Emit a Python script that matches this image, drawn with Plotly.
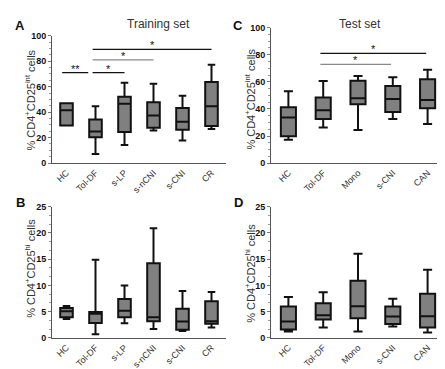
import plotly.graph_objects as go

# ---------------- data ----------------
train_cats = ["HC", "Tol-DF", "s-LP", "s-nCNI", "s-CNI", "CR"]
test_cats = ["HC", "Tol-DF", "Mono", "s-CNI", "CAN"]

# Panel A: % CD4+CD25int, training set
a_min = [29.5, 7.1, 14.2, 25.6, 17.8, 26.7]
a_q1 = [29.5, 20.3, 24.4, 27.7, 26.2, 29.2]
a_med = [41.4, 24.9, 46.5, 37.4, 32.5, 44.7]
a_q3 = [47.0, 34.3, 52.0, 47.8, 43.2, 63.6]
a_max = [47.0, 44.7, 63.0, 62.3, 52.9, 77.1]

# Panel C: % CD4+CD25int, test set
c_min = [17.2, 26.3, 24.4, 32.5, 28.9]
c_q1 = [19.8, 32.5, 43.5, 37.7, 40.4]
c_med = [33.7, 39.0, 47.8, 47.3, 46.6]
c_q3 = [41.3, 48.5, 60.7, 56.9, 61.9]
c_max = [53.1, 60.5, 64.3, 63.3, 68.9]

# Panel B: % CD4+CD25hi, training set
b_min = [3.6, 0.7, 2.8, 1.7, 1.3, 2.0]
b_q1 = [3.95, 2.84, 3.95, 3.2, 1.54, 2.72]
b_med = [5.06, 4.6, 5.2, 3.95, 3.15, 3.2]
b_q3 = [5.7, 4.94, 7.4, 14.2, 5.56, 6.98]
b_max = [6.1, 14.9, 10.0, 20.9, 8.95, 8.76]

# Panel D: % CD4+CD25hi, test set
d_min = [1.24, 2.0, 1.24, 2.16, 1.05]
d_q1 = [1.6, 3.5, 3.77, 2.65, 1.98]
d_med = [3.15, 4.3, 6.05, 4.07, 4.13]
d_q3 = [6.0, 6.6, 10.87, 6.0, 8.4]
d_max = [7.8, 8.7, 16.05, 7.46, 12.96]

# significance brackets: (from index, to index, height, label, colour)
a_sig_from = [-0.15, 0.9, 0.9, 0.9]
a_sig_to = [0.75, 2.0, 3.0, 5.0]
a_sig_y = [71, 71, 81, 89.3]
a_sig_lab = ["**", "*", "*", "*"]
a_sig_col = ["#111", "#111", "#888", "#111"]

c_sig_from = [0.92, 0.92]
c_sig_to = [2.95, 3.96]
c_sig_y = [72.9, 81]
c_sig_lab = ["*", "*"]
c_sig_col = ["#888", "#111"]

FONT = "Liberation Sans"
fig = go.Figure()


def add_box(cats, mn, q1, med, q3, mx, xa, ya):
    fig.add_trace(go.Box(
        x=cats, q1=q1, median=med, q3=q3, lowerfence=mn, upperfence=mx,
        fillcolor="#808080", line=dict(color="#111111", width=2),
        whiskerwidth=0.6, boxpoints=False, hoverinfo="skip",
        xaxis=xa, yaxis=ya, showlegend=False))


add_box(train_cats, a_min, a_q1, a_med, a_q3, a_max, "x", "y")
add_box(test_cats, c_min, c_q1, c_med, c_q3, c_max, "x2", "y2")
add_box(train_cats, b_min, b_q1, b_med, b_q3, b_max, "x3", "y3")
add_box(test_cats, d_min, d_q1, d_med, d_q3, d_max, "x4", "y4")

W, H = 445, 369


def xdom(l, r):
    return [l / W, r / W]


def ydom(bottom_px, top_px):
    return [(H - bottom_px) / H, (H - top_px) / H]


def xaxis(dom, n):
    return dict(domain=dom, range=[-0.5, n - 0.5], showline=True,
                linecolor="#555", linewidth=1, ticks="", showgrid=False,
                zeroline=False, tickangle=-45,
                tickfont=dict(family=FONT, size=9, color="#333"))


def yaxis(dom, rng, dt, minor_dt, anchor):
    return dict(domain=dom, range=rng, dtick=dt, showline=True,
                linecolor="#555", linewidth=1, ticks="outside", ticklen=3,
                tickcolor="#777", showgrid=False, zeroline=False,
                minor=dict(dtick=minor_dt, ticks="outside", ticklen=2,
                           tickcolor="#999"),
                tickfont=dict(family=FONT, size=9, color="#111", weight="bold"),
                anchor=anchor)


fig.update_layout(
    width=W, height=H, margin=dict(l=0, r=0, t=0, b=0),
    paper_bgcolor="white", plot_bgcolor="white", boxgap=0.38,
    xaxis=dict(xaxis(xdom(44, 218), 6), anchor="y"),
    yaxis=yaxis(ydom(154.3, 23.3), [0, 100], 20, 5, "x"),
    xaxis2=dict(xaxis(xdom(263, 437), 5), anchor="y2"),
    yaxis2=yaxis(ydom(154.3, 15), [0, 100], 20, 5, "x2"),
    xaxis3=dict(xaxis(xdom(44, 218), 6), anchor="y3"),
    yaxis3=yaxis(ydom(334, 199), [0, 25], 5, 5 / 3, "x3"),
    xaxis4=dict(xaxis(xdom(263, 437), 5), anchor="y4"),
    yaxis4=yaxis(ydom(334, 199), [0, 25], 5, 5 / 3, "x4"),
)

shapes = []
annots = []


def add_sig(fr, to, ys, labs, cols, xr, yr):
    for f, t, y, lab, col in zip(fr, to, ys, labs, cols):
        shapes.append(dict(type="line", xref=xr, yref=yr, x0=f, x1=t, y0=y, y1=y,
                           line=dict(color=col, width=1.3)))
        annots.append(dict(xref=xr, yref=yr, x=(f + t) / 2, y=y, text=lab,
                           showarrow=False, yanchor="bottom", yshift=-4,
                           font=dict(family=FONT, size=11, color="#111")))


add_sig(a_sig_from, a_sig_to, a_sig_y, a_sig_lab, a_sig_col, "x", "y")
add_sig(c_sig_from, c_sig_to, c_sig_y, c_sig_lab, c_sig_col, "x2", "y2")

# panel letters and titles
for txt, px, py in [("A", 12, 13), ("C", 230, 13), ("B", 12, 195), ("D", 230, 195)]:
    annots.append(dict(xref="paper", yref="paper", x=px / W, y=1 - py / H, text=txt,
                       showarrow=False, xanchor="center", yanchor="middle",
                       font=dict(family=FONT, size=13, color="#111", weight="bold")))
for txt, px, py in [("Training set", 150, 11), ("Test set", 352, 11)]:
    annots.append(dict(xref="paper", yref="paper", x=px / W, y=1 - py / H, text=txt,
                       showarrow=False, xanchor="center", yanchor="middle",
                       font=dict(family=FONT, size=12, color="#333")))

int_title = "% CD4<sup>+</sup>CD25<sup>int</sup> cells"
hi_title = "% CD4<sup>+</sup>CD25<sup>hi</sup> cells"
for txt, px, py in [(int_title, 22, 90), (int_title, 242, 88),
                    (hi_title, 22, 263), (hi_title, 242, 267)]:
    annots.append(dict(xref="paper", yref="paper", x=px / W, y=1 - py / H, text=txt,
                       showarrow=False, textangle=-90, xanchor="center",
                       yanchor="middle",
                       font=dict(family=FONT, size=11, color="#333")))

fig.update_layout(shapes=shapes, annotations=annots)
fig.write_html("out.html")
